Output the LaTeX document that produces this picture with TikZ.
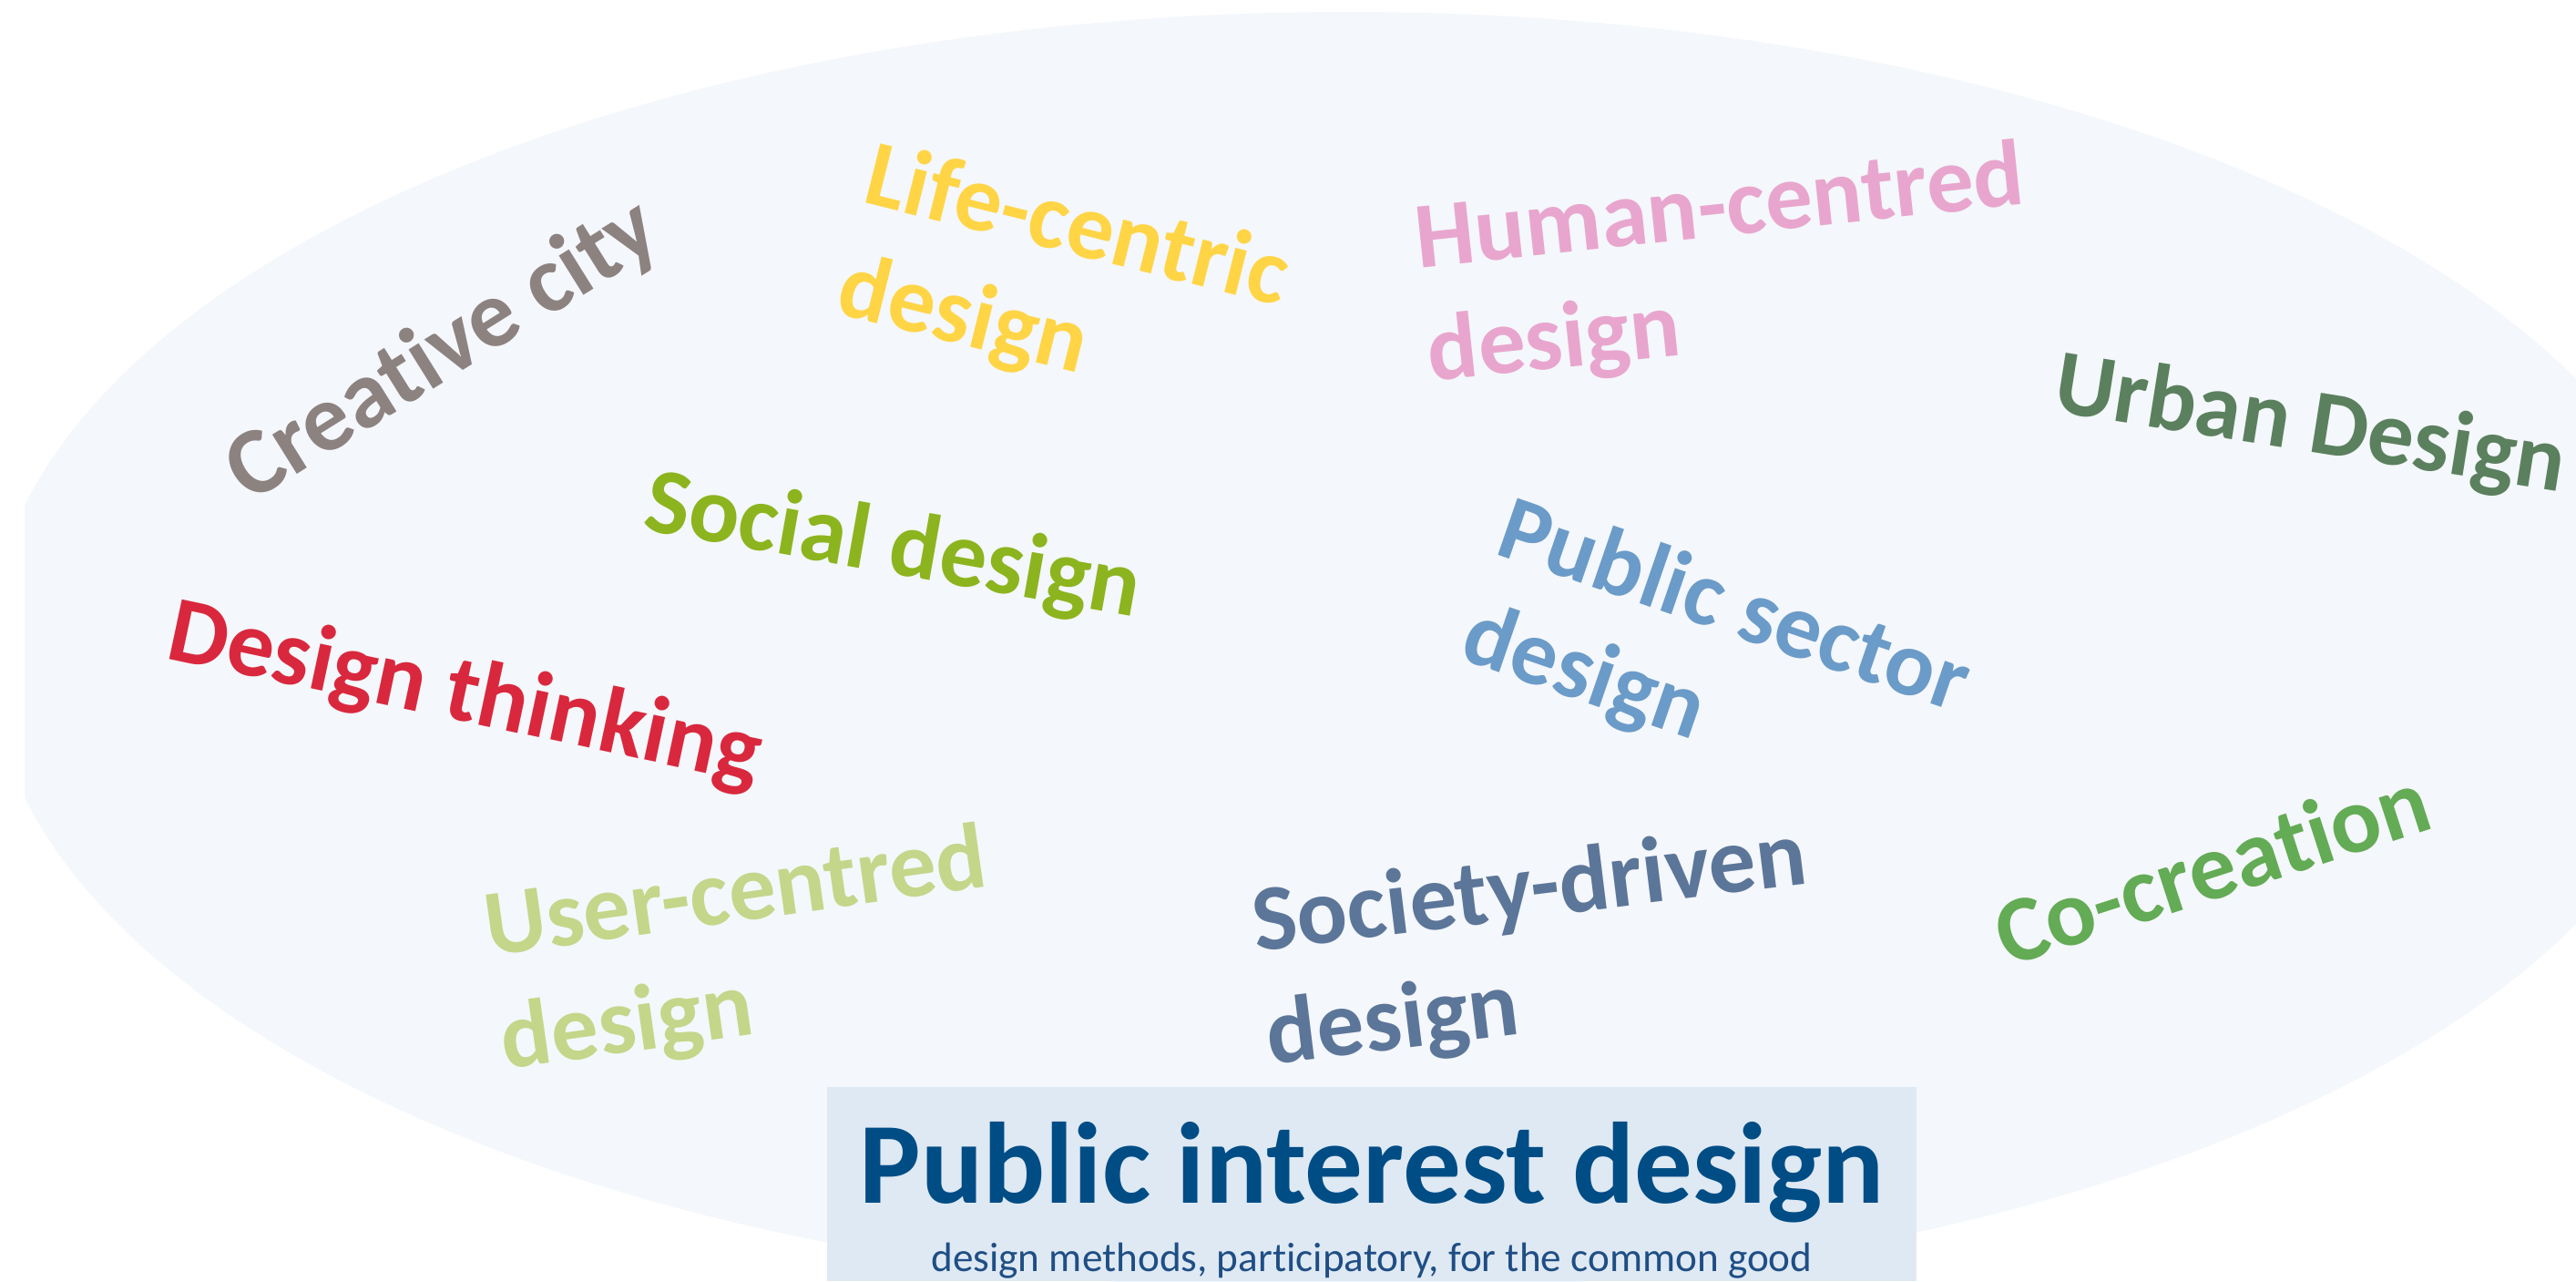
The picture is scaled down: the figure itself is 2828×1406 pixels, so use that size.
\documentclass[tikz,border=0pt]{standalone}
\usepackage{fontspec}
\setmainfont{Carlito}[Ligatures=NoCommon]
\definecolor{ellfill}{HTML}{F4F7FB}
\definecolor{boxfill}{HTML}{DFE9F3}
\definecolor{cgrey}{HTML}{8C8280}
\definecolor{cyellow}{HTML}{FFD546}
\definecolor{cpink}{HTML}{E8A6CE}
\definecolor{curban}{HTML}{5B805E}
\definecolor{csocial}{HTML}{8CB41E}
\definecolor{cpublic}{HTML}{6B9BC8}
\definecolor{cred}{HTML}{D9283D}
\definecolor{cuser}{HTML}{C4D68A}
\definecolor{csociety}{HTML}{5C7699}
\definecolor{ccoc}{HTML}{63AB55}
\definecolor{ctitle}{HTML}{004D86}
\definecolor{csub}{HTML}{1F4E85}
\tikzset{
  term/.style={inner sep=0pt, align=left, font=\fontsize{25.8pt}{31.3pt}\selectfont\bfseries},
}
\begin{document}
\begin{tikzpicture}[x=0.25pt,y=-0.25pt]
\useasboundingbox (0,0) rectangle (2828,1406);
\begin{scope}
\clip (27,0) rectangle (2828,1406);
\fill[ellfill] (1479,715) ellipse [x radius=372.75pt, y radius=175.5pt];
\end{scope}
\fill[boxfill] (908,1193) rectangle (2104,1406);
\node[term, text=cgrey, rotate=32, font=\fontsize{26.2pt}{31.5pt}\selectfont\bfseries] (creative) at (487,386) {Creative city};
\node[term, text=cyellow, rotate=-14] (life) at (1167,313) {Life-centric\\design};
\node[term, text=cpink, rotate=6] (human) at (1895,294) {Human-centred\\design};
\node[term, text=curban, rotate=-9, font=\fontsize{25.3pt}{31pt}\selectfont\bfseries] (urban) at (2536,469) {Urban Design};
\node[term, text=csocial, rotate=-10] (social) at (980,602) {Social design};
\node[term, text=cpublic, rotate=-19, font=\fontsize{25.4pt}{30.5pt}\selectfont\bfseries] (public) at (1883,727) {Public sector\\design};
\node[term, text=cred, rotate=-12] (thinking) at (510,764) {Design thinking};
\node[term, text=cuser, rotate=8] (user) at (817,1046) {User-centred\\design};
\node[term, text=csociety, rotate=7] (society) at (1687,1042) {Society-driven\\design};
\node[term, text=ccoc, rotate=18] (cocreation) at (2428,951) {Co-creation};
\node[inner sep=0pt, anchor=base, text=ctitle, font=\fontsize{31.75pt}{36pt}\selectfont\bfseries] (title) at (1506,1320) {Public interest design};
\node[inner sep=0pt, anchor=base, text=csub, font=\fontsize{11.3pt}{13pt}\selectfont] (subtitle) at (1506,1395) {design methods, participatory, for the common good};
\end{tikzpicture}
\end{document}
